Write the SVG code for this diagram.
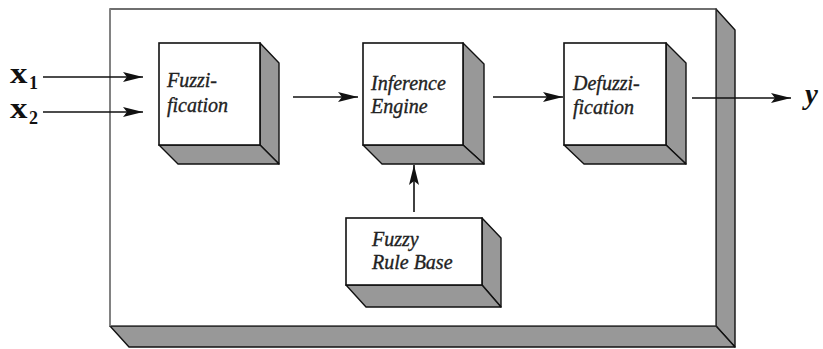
<svg xmlns="http://www.w3.org/2000/svg" width="823" height="349" viewBox="0 0 823 349">
<style>
.face{fill:#fff;stroke:#111;stroke-width:1.6}
.shade{fill:#989898;stroke:#111;stroke-width:1.4;stroke-linejoin:round}
.lbl{font-family:"Liberation Serif","Times New Roman",serif;font-style:italic;font-size:20px;fill:#222;stroke:#222;stroke-width:0.35}
.io{font-family:"Liberation Serif","Times New Roman",serif;font-weight:bold;fill:#111}
.conn{stroke:#111;stroke-width:1.6;fill:none}
</style>
<defs>
<marker id="ah" markerUnits="userSpaceOnUse" markerWidth="22" markerHeight="12" refX="20" refY="5" orient="auto">
<path d="M0,0 L20,5 L0,10 L4,5 Z" fill="#111"/>
</marker>
</defs>
<g id="frame">
<polygon class="shade" points="716,9 735,30 735,347 716,326"/>
<polygon class="shade" points="110,326 716,326 735,347 129,347"/>
<rect x="110" y="9" width="606" height="317" fill="#fff" stroke="#333" stroke-width="1.4"/>
<line x1="110" y1="9" x2="110" y2="326" stroke="#888" stroke-width="1.6"/>
</g>
<g id="fuzzification">
<polygon class="shade" points="260,43 279,63 279,164 260,145"/>
<polygon class="shade" points="159,145 260,145 279,164 178,164"/>
<rect class="face" x="159" y="43" width="101" height="102"/>
<text class="lbl" x="167" y="87">Fuzzi-</text>
<text class="lbl" x="167" y="112">fication</text>
</g>
<g id="inference">
<polygon class="shade" points="463,43 484,64 484,164 463,145"/>
<polygon class="shade" points="363,145 463,145 484,164 382,164"/>
<rect class="face" x="363" y="43" width="100" height="102"/>
<text class="lbl" x="371" y="90">Inference</text>
<text class="lbl" x="371" y="113">Engine</text>
</g>
<g id="defuzzification">
<polygon class="shade" points="666,43 686,63 686,164 666,145"/>
<polygon class="shade" points="564,145 666,145 686,164 584,164"/>
<rect class="face" x="564" y="43" width="102" height="102"/>
<text class="lbl" x="573" y="90">Defuzzi-</text>
<text class="lbl" x="573" y="114">fication</text>
</g>
<g id="rulebase">
<polygon class="shade" points="482,218 501,238 501,307 482,285"/>
<polygon class="shade" points="346,285 482,285 501,307 366,307"/>
<rect class="face" x="346" y="218" width="136" height="67"/>
<text class="lbl" x="372" y="246">Fuzzy</text>
<text class="lbl" x="372" y="269">Rule Base</text>
</g>
<g id="inputs">
<text class="io" font-size="29" transform="translate(10,83) scale(1.2,1)">x</text>
<text class="io" font-size="18" x="29" y="89">1</text>
<text class="io" font-size="29" transform="translate(10,118) scale(1.2,1)">x</text>
<text class="io" font-size="18" x="29" y="124">2</text>
</g>
<g id="output">
<text class="io" x="805" y="104" font-size="29" font-style="italic">y</text>
</g>
<g id="connectors">
<line class="conn" x1="43" y1="77" x2="143" y2="77" marker-end="url(#ah)"/>
<line class="conn" x1="43" y1="112" x2="143" y2="112" marker-end="url(#ah)"/>
<line class="conn" x1="293" y1="97" x2="358" y2="97" marker-end="url(#ah)"/>
<line class="conn" x1="493" y1="97" x2="563" y2="97" marker-end="url(#ah)"/>
<line class="conn" x1="692" y1="98" x2="791" y2="98" marker-end="url(#ah)"/>
<line class="conn" x1="414" y1="212" x2="414" y2="165" marker-end="url(#ah)"/>
</g>
</svg>
